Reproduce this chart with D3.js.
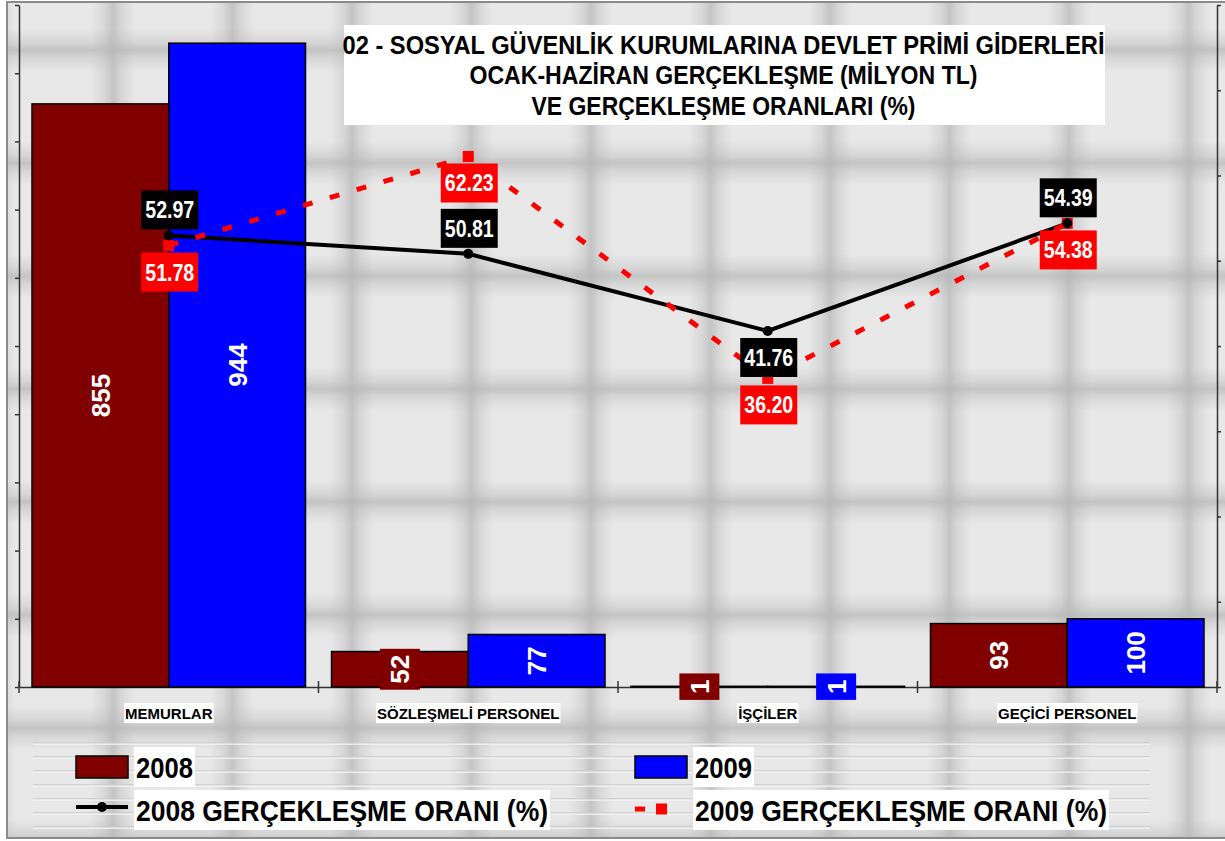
<!DOCTYPE html>
<html>
<head>
<meta charset="utf-8">
<script src="https://cdn.jsdelivr.net/npm/d3@7"></script>
<style>
    html, body { margin: 0; padding: 0; background: #fff; }
    svg { display: block; font-family: "Liberation Sans", Arial, sans-serif; }
</style>
</head>
<body>
<div id="chart"></div>
<script>
const categories = ["MEMURLAR", "SÖZLEŞMELİ PERSONEL", "İŞÇİLER", "GEÇİCİ PERSONEL"];
const years = ["2008", "2009"];
const spending2008 = [855, 52, 1, 93];
const spending2009 = [944, 77, 1, 100];
const rate2008 = [52.97, 50.81, 41.76, 54.39];
const rate2009 = [51.78, 62.23, 36.20, 54.38];
const leftTicks = d3.range(0, 1001, 100);
const rightTicks = d3.range(0, 81, 10);
const titleLines = [
    "02 - SOSYAL GÜVENLİK KURUMLARINA DEVLET PRİMİ GİDERLERİ",
    "OCAK-HAZİRAN GERÇEKLEŞME (MİLYON TL)",
    "VE GERÇEKLEŞME ORANLARI (%)"
];
const legendLabels = ["2008", "2009", "2008 GERÇEKLEŞME ORANI (%)", "2009 GERÇEKLEŞME ORANI (%)"];

// label placement for the 2008 rate labels (Excel put one under the point)
const rate2008Side = ["above", "above", "below", "above"];

const width = 1225;
const height = 841;
const plot = { left: 19, right: 1217, top: 5, bottom: 687 };
const barColor = { "2008": "#800000", "2009": "#0000ff" };
const spending = { "2008": spending2008, "2009": spending2009 };

const svg = d3.select("#chart")
    .append("svg")
    .attr("width", width)
    .attr("height", height);

// ---- background texture (grey bevelled tiles) ----
const defs = svg.append("defs");
function grad(id, x1, y1, x2, y2, c) {
    const g = defs.append("linearGradient").attr("id", id)
        .attr("x1", x1).attr("y1", y1).attr("x2", x2).attr("y2", y2);
    g.append("stop").attr("offset", "0").attr("stop-color", c).attr("stop-opacity", 0.7);
    g.append("stop").attr("offset", "0.35").attr("stop-color", c).attr("stop-opacity", 0.35);
    g.append("stop").attr("offset", "1").attr("stop-color", c).attr("stop-opacity", 0);
}
grad("gL", 0, 0, 1, 0, "#b4b4b4");
grad("gR", 1, 0, 0, 0, "#b4b4b4");
grad("gT", 0, 0, 0, 1, "#b4b4b4");
grad("gB", 0, 1, 0, 0, "#b4b4b4");

const tw = 119.5, th = 113, gw = 22;
const tile = defs.append("pattern").attr("id", "tiles")
    .attr("patternUnits", "userSpaceOnUse")
    .attr("x", 113).attr("y", 50)
    .attr("width", tw).attr("height", th);
tile.append("rect").attr("width", tw).attr("height", th).attr("fill", "#e8e8e8");
tile.append("rect").attr("x", 0).attr("width", gw).attr("height", th).attr("fill", "url(#gL)");
tile.append("rect").attr("x", tw - gw).attr("width", gw).attr("height", th).attr("fill", "url(#gR)");
tile.append("rect").attr("y", 0).attr("width", tw).attr("height", gw).attr("fill", "url(#gT)");
tile.append("rect").attr("y", th - gw).attr("width", tw).attr("height", gw).attr("fill", "url(#gB)");

const stripes = defs.append("pattern").attr("id", "stripes")
    .attr("patternUnits", "userSpaceOnUse")
    .attr("x", 0).attr("y", 742)
    .attr("width", 40).attr("height", 14);
stripes.append("rect").attr("y", 0).attr("width", 40).attr("height", 1.5).attr("fill", "#c9c9c9").attr("opacity", 0.7);
stripes.append("rect").attr("y", 1.5).attr("width", 40).attr("height", 1.5).attr("fill", "#f4f4f4").attr("opacity", 0.8);

svg.append("rect")
    .attr("x", 7).attr("y", 2)
    .attr("width", width).attr("height", 836)
    .attr("fill", "url(#tiles)")
    .attr("stroke", "#8a8a8a")
    .attr("stroke-width", 2);

// ---- scales ----
const x = d3.scaleBand()
    .domain(categories)
    .range([plot.left, plot.right])
    .padding(0);

const xSub = d3.scaleBand()
    .domain(years)
    .range([13, x.bandwidth() - 13])
    .padding(0);

const yLeft = d3.scaleLinear()
    .domain([0, 1000])
    .range([plot.bottom, plot.top]);

const yRight = d3.scaleLinear()
    .domain([0, 80])
    .range([plot.bottom, plot.top]);

// ---- axes ----
const leftAxis = svg.append("g")
    .attr("transform", "translate(" + plot.left + ",0)")
    .call(d3.axisLeft(yLeft).tickValues(leftTicks).tickSize(4).tickSizeOuter(0).tickFormat(""));
const rightAxis = svg.append("g")
    .attr("transform", "translate(" + plot.right + ",0)")
    .call(d3.axisRight(yRight).tickValues(rightTicks).tickSize(4).tickSizeOuter(0).tickFormat(""));
const bottomAxis = svg.append("g")
    .attr("transform", "translate(0," + plot.bottom + ")")
    .call(d3.axisBottom(x).tickSize(0).tickSizeOuter(0).tickFormat(""));
[leftAxis, rightAxis, bottomAxis].forEach(a => {
    a.selectAll("path, line").attr("stroke", "#333").attr("stroke-width", 1.5);
});

const boundaries = categories.map(c => x(c)).concat([x.range()[1]]);
svg.append("g").selectAll("line")
    .data(boundaries)
    .enter()
    .append("line")
    .attr("x1", d => d).attr("x2", d => d)
    .attr("y1", plot.bottom - 6).attr("y2", plot.bottom + 6)
    .attr("stroke", "#333").attr("stroke-width", 1.5);

// ---- bars ----
const barData = [];
categories.forEach((c, i) => {
    years.forEach(yr => barData.push({ cat: c, year: yr, value: spending[yr][i] }));
});

svg.append("g").selectAll("rect")
    .data(barData)
    .enter()
    .append("rect")
    .attr("x", d => x(d.cat) + xSub(d.year))
    .attr("y", d => yLeft(d.value))
    .attr("width", xSub.bandwidth())
    .attr("height", d => plot.bottom - yLeft(d.value))
    .attr("fill", d => barColor[d.year])
    .attr("stroke", "#000")
    .attr("stroke-width", 1.5);

const barLabels = svg.append("g").selectAll("g")
    .data(barData)
    .enter()
    .append("g")
    .attr("transform", d => "translate(" + (x(d.cat) + xSub(d.year) + xSub.bandwidth() / 2) + "," + yLeft(d.value / 2) + ") rotate(-90)");
barLabels.append("rect").attr("class", "bg").attr("fill", d => barColor[d.year]);
barLabels.append("text")
    .attr("text-anchor", "middle")
    .attr("dy", "0.36em")
    .attr("fill", "#fff")
    .attr("font-size", 26)
    .attr("font-weight", "bold")
    .text(d => d.value);
barLabels.each(function() {
    const g = d3.select(this);
    const w = g.select("text").node().getComputedTextLength();
    g.select("rect.bg")
        .attr("x", -w / 2 - 6).attr("y", -20)
        .attr("width", w + 12).attr("height", 40);
});

// ---- rate lines ----
const cx = c => x(c) + x.bandwidth() / 2;
const line = d3.line()
    .x((d, i) => cx(categories[i]))
    .y(d => yRight(d));

svg.append("path")
    .datum(rate2008)
    .attr("d", line)
    .attr("fill", "none")
    .attr("stroke", "#000")
    .attr("stroke-width", 4);

svg.append("path")
    .datum(rate2009)
    .attr("d", line)
    .attr("fill", "none")
    .attr("stroke", "#ff0000")
    .attr("stroke-width", 5)
    .attr("stroke-dasharray", "10,18");

svg.append("g").selectAll("rect")
    .data(rate2009)
    .enter()
    .append("rect")
    .attr("x", (d, i) => cx(categories[i]) - 5.5)
    .attr("y", d => yRight(d) - 5.5)
    .attr("width", 11).attr("height", 11)
    .attr("fill", "#ff0000");

svg.append("g").selectAll("circle")
    .data(rate2008)
    .enter()
    .append("circle")
    .attr("cx", (d, i) => cx(categories[i]))
    .attr("cy", d => yRight(d))
    .attr("r", 5)
    .attr("fill", "#000");

const fmt = d3.format(".2f");
function rateLabels(values, sides, fill) {
    const g = svg.append("g").selectAll("g")
        .data(values)
        .enter()
        .append("g")
        .attr("transform", (d, i) => {
            const top = sides[i] === "above" ? yRight(d) - 6 - 39 : yRight(d) + 7;
            return "translate(" + (cx(categories[i]) + 1) + "," + top + ")";
        });
    g.append("rect")
        .attr("x", -28.5).attr("y", 0)
        .attr("width", 57).attr("height", 39)
        .attr("fill", fill);
    g.append("text")
        .attr("text-anchor", "middle")
        .attr("y", 28)
        .attr("fill", "#fff")
        .attr("font-size", 23)
        .attr("font-weight", "bold")
        .attr("textLength", 49)
        .attr("lengthAdjust", "spacingAndGlyphs")
        .text(d => fmt(d));
}
rateLabels(rate2008, rate2008Side, "#000");
rateLabels(rate2009, rate2009.map(() => "below"), "#ff0000");

// ---- category labels ----
const catLabels = svg.append("g").selectAll("g")
    .data(categories)
    .enter()
    .append("g");
catLabels.append("rect").attr("fill", "#fff");
catLabels.append("text")
    .attr("x", d => cx(d))
    .attr("y", 719)
    .attr("text-anchor", "middle")
    .attr("font-size", 15)
    .attr("font-weight", "bold")
    .text(d => d);
catLabels.each(function() {
    const g = d3.select(this);
    const b = g.select("text").node().getBBox();
    g.select("rect").attr("x", b.x - 1).attr("y", 703).attr("width", b.width + 2).attr("height", 20);
});

// ---- title ----
const titleWidths = [762, 508, 384];
const titleBase = [53.5, 84, 114.5];
svg.append("rect")
    .attr("x", 344).attr("y", 25)
    .attr("width", 761).attr("height", 100)
    .attr("fill", "#fff");
svg.append("g").selectAll("text")
    .data(titleLines)
    .enter()
    .append("text")
    .attr("x", 723.5)
    .attr("y", (d, i) => titleBase[i])
    .attr("text-anchor", "middle")
    .attr("font-size", 25)
    .attr("font-weight", "bold")
    .attr("textLength", (d, i) => titleWidths[i])
    .attr("lengthAdjust", "spacingAndGlyphs")
    .text(d => d);

// ---- legend ----
svg.append("rect")
    .attr("x", 33).attr("y", 742)
    .attr("width", 1117).attr("height", 90)
    .attr("fill", "url(#stripes)");

const legend = svg.append("g");
const legCols = [76, 635];
const textWidths = [57, 57, 412, 412];
legendLabels.forEach((label, i) => {
    const col = legCols[i % 2];
    const row = i < 2 ? 0 : 1;
    const boxTop = row === 0 ? 747 : 790;
    const tx = col + 60;
    legend.append("rect")
        .attr("x", tx - 2).attr("y", boxTop)
        .attr("width", textWidths[i] + 4).attr("height", 40)
        .attr("fill", "#fff");
    legend.append("text")
        .attr("x", tx).attr("y", boxTop + 31)
        .attr("font-size", 30)
        .attr("font-weight", "bold")
        .attr("textLength", textWidths[i])
        .attr("lengthAdjust", "spacingAndGlyphs")
        .text(label);
});
years.forEach((yr, i) => {
    legend.append("rect")
        .attr("x", legCols[i]).attr("y", 756)
        .attr("width", 52).attr("height", 22)
        .attr("fill", barColor[yr])
        .attr("stroke", "#000").attr("stroke-width", 1.5);
});
legend.append("line")
    .attr("x1", legCols[0]).attr("x2", legCols[0] + 52)
    .attr("y1", 807).attr("y2", 807)
    .attr("stroke", "#000").attr("stroke-width", 4);
legend.append("circle")
    .attr("cx", legCols[0] + 26).attr("cy", 807).attr("r", 5)
    .attr("fill", "#000");
legend.append("line")
    .attr("x1", legCols[1]).attr("x2", legCols[1] + 39)
    .attr("y1", 809).attr("y2", 809)
    .attr("stroke", "#ff0000").attr("stroke-width", 5)
    .attr("stroke-dasharray", "10,11");
legend.append("rect")
    .attr("x", legCols[1] + 21).attr("y", 803.5)
    .attr("width", 11).attr("height", 11)
    .attr("fill", "#ff0000");
</script>
</body>
</html>
